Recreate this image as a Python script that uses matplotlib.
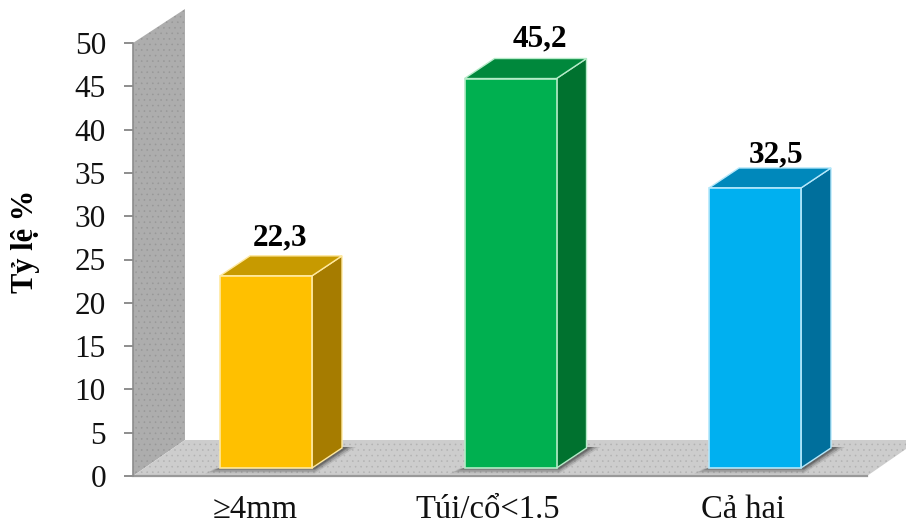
import matplotlib
matplotlib.use("Agg")
import matplotlib.pyplot as plt
from matplotlib.patches import Polygon

categories = ["≥4mm", "Túi/cổ<1.5", "Cả hai"]
values = [22.3, 45.2, 32.5]
value_labels = ["22,3", "45,2", "32,5"]
y_ticks = [0, 5, 10, 15, 20, 25, 30, 35, 40, 45, 50]

front_colors = ["#FFC000", "#00B050", "#00B0F0"]
side_colors = ["#A67C00", "#00722F", "#006F9C"]
top_colors = ["#C79A00", "#00883C", "#0088BB"]
edge_colors = ["#FFE9A0", "#B5EBC8", "#B5E8FB"]

# label placement in pixels, the labels are not centred on the bars
value_dx = [14, 29, 21]
value_gap = [10, 12, 6]
cat_dx = [-11, -23, -12]

plt.rcParams["font.family"] = ["Liberation Serif", "DejaVu Serif"]
plt.rcParams["hatch.linewidth"] = 0.4

PX_X = 244.5   # pixels per category
PX_Y = 8.66    # pixels per percent unit

fig = plt.figure(figsize=(9.06, 5.24), dpi=100)
ax = fig.add_axes([0, 0, 1, 1])
ax.set_xlim(-266 / PX_X, (906 - 266) / PX_X)
ax.set_ylim(-48 / PX_Y, 476 / PX_Y)
ax.patch.set_visible(False)


def dx(px):
    return px / PX_X


def dy(px):
    return px / PX_Y


left = dx(133 - 266)
right = dx(867 - 266)
wall_x, wall_y = dx(52), dy(36)

# wall and floor
wall = [(left, 0), (left, 50), (left + wall_x, 50 + dy(34)), (left + wall_x, wall_y)]
floor = [(left, 0), (right, 0), (right + wall_x, wall_y), (left + wall_x, wall_y)]
ax.add_patch(Polygon(wall, facecolor="#ADADAD", edgecolor="none", zorder=1))
ax.add_patch(Polygon(wall, facecolor="none", edgecolor="#979797", hatch="...", lw=0, zorder=1))
ax.add_patch(Polygon(floor, facecolor="#CDCDCD", edgecolor="none", zorder=1))
ax.add_patch(Polygon(floor, facecolor="none", edgecolor="#B2B2B2", hatch="...", lw=0, zorder=1))
ax.plot([left, right], [0, 0], color="#999999", lw=1.6, zorder=2)

bar_w = dx(92)
depth_x, depth_y = dx(30), dy(20)
base = dy(8)

for i, v in enumerate(values):
    x0 = i - bar_w / 2
    x1 = i + bar_w / 2
    top = base + v * 0.995

    # soft shadow on the floor
    for grow, alpha in [(10, 0.12), (7, 0.18), (4, 0.25), (2, 0.30)]:
        ax.add_patch(Polygon([(x0 - dx(grow + 5), base - dy(grow * 0.55)), (x1 + dx(3), base - dy(grow * 0.55)),
                              (x1 + depth_x + dx(grow + 4), base + depth_y + dy(1)),
                              (x1 + depth_x, base + depth_y + dy(1)), (x0, base)],
                             facecolor="#303030", edgecolor="none", alpha=alpha, zorder=2))

    ax.add_patch(Polygon([(x1, base), (x1 + depth_x, base + depth_y), (x1 + depth_x, top + depth_y), (x1, top)],
                         facecolor=side_colors[i], edgecolor=edge_colors[i], lw=1, zorder=3))
    ax.add_patch(Polygon([(x0, top), (x1, top), (x1 + depth_x, top + depth_y), (x0 + depth_x, top + depth_y)],
                         facecolor=top_colors[i], edgecolor=edge_colors[i], lw=1, zorder=3))
    ax.add_patch(Polygon([(x0, base), (x1, base), (x1, top), (x0, top)],
                         facecolor=front_colors[i], edgecolor=edge_colors[i], lw=1.2, zorder=4))

    ax.text(i + dx(value_dx[i]), top + depth_y + dy(value_gap[i]), value_labels[i], ha="center", va="baseline",
            fontsize=22.5, fontweight="bold", color="black", zorder=5)
    ax.text(i + dx(cat_dx[i]), dy(-42), categories[i], ha="center", va="baseline",
            fontsize=23.5, color="#111111")

# y axis
for s in ["top", "right", "bottom"]:
    ax.spines[s].set_visible(False)
ax.spines["left"].set_position(("data", left))
ax.spines["left"].set_bounds(0, 50)
ax.spines["left"].set_color("#8C8C8C")
ax.spines["left"].set_linewidth(1.2)
ax.spines["left"].set_zorder(2)
ax.set_xticks([])
ax.set_yticks(y_ticks)
ax.tick_params(axis="y", direction="out", length=6.5, width=1.2, color="#7A7A7A",
               labelsize=22.5, pad=13, labelcolor="#111111")

ax.text(dx(25 - 266), 27.1, "Tỷ lệ %", rotation=90, ha="center", va="center",
        fontsize=22, fontweight="bold", color="black")

fig.savefig("out.png", dpi=100)
plt.close(fig)
